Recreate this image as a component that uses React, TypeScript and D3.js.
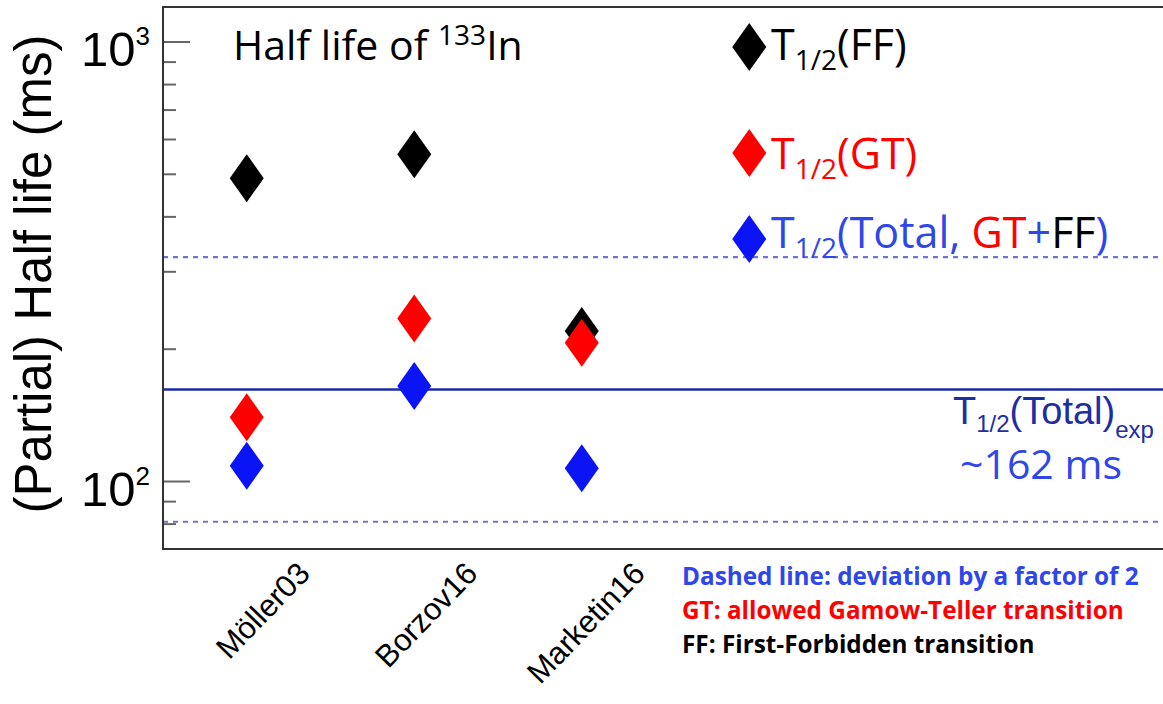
import React from "react";
import * as d3 from "d3";

// Model predictions for the half life of 133In (ms)
const categories = ["Möller03", "Borzov16", "Marketin16"];
const halfLifeFF = [490, 555, 220];
const halfLifeGT = [140, 235, 207];
const halfLifeTotal = [108.6, 165, 107.2];

const experimentalHalfLife = 162;
const deviationFactor = 2;

const majorTicks = [100, 1000];
const minorTicks = [80, 90, 200, 300, 400, 500, 600, 700, 800, 900];

const W = 1163;
const H = 704;

const frame = { left: 163, top: 7, right: 1168, bottom: 549 };

const COLORS = {
  ff: "#000000",
  gt: "#ff0000",
  total: "#0a14f5",
  expLine: "#1b2aa6",
  dashed: "#7373cc",
  textBlue: "#2f47e8",
  expText: "#1d2ea2",
};

const x = d3
  .scaleLinear()
  .domain([-0.5, 5.5])
  .range([frame.left, frame.right]);

const y = d3
  .scaleLog()
  .domain([70.22, 1201.1])
  .range([frame.bottom, frame.top]);

const series = [
  { key: "ff", values: halfLifeFF, color: COLORS.ff },
  { key: "gt", values: halfLifeGT, color: COLORS.gt },
  { key: "total", values: halfLifeTotal, color: COLORS.total },
];

const DW = 17; // half width of a diamond
const DH = 24; // half height of a diamond

function diamond(cx: number, cy: number): string {
  const p = d3.path();
  p.moveTo(cx, cy - DH);
  p.lineTo(cx + DW, cy);
  p.lineTo(cx, cy + DH);
  p.lineTo(cx - DW, cy);
  p.closePath();
  return p.toString();
}

const calibriLike = "'Open Sans', 'Noto Sans', sans-serif";
const arialLike = "'Liberation Sans', Arial, sans-serif";

export default function App() {
  const legendX = x(3);
  const legend = [
    { color: COLORS.ff, cy: 47, base: 60 },
    { color: COLORS.gt, cy: 153, base: 169 },
    { color: COLORS.total, cy: 239, base: 248 },
  ];
  const lfs = 43; // legend font size
  const lsub = 28; // legend subscript size

  return (
    <svg
      width={W}
      height={H}
      style={{ position: "absolute", left: 0, top: 0, background: "#fff" }}
    >
      <rect x={0} y={0} width={W} height={H} fill="#fff" />

      {/* reference lines: measured value and factor-of-two band */}
      <line
        x1={frame.left}
        x2={frame.right}
        y1={y(experimentalHalfLife)}
        y2={y(experimentalHalfLife)}
        stroke={COLORS.expLine}
        strokeWidth={2.5}
      />
      {[experimentalHalfLife * deviationFactor, experimentalHalfLife / deviationFactor].map((v) => (
        <line
          key={v}
          x1={frame.left}
          x2={frame.right}
          y1={y(v)}
          y2={y(v)}
          stroke={COLORS.dashed}
          strokeWidth={2.2}
          strokeDasharray="5 5"
        />
      ))}

      {/* y axis ticks */}
      {majorTicks.map((t) => (
        <line
          key={"M" + t}
          x1={frame.left}
          x2={frame.left + 27}
          y1={y(t)}
          y2={y(t)}
          stroke="#666"
          strokeWidth={2}
        />
      ))}
      {minorTicks.map((t) => (
        <line
          key={"m" + t}
          x1={frame.left}
          x2={frame.left + 13}
          y1={y(t)}
          y2={y(t)}
          stroke="#666"
          strokeWidth={2}
        />
      ))}
      {majorTicks.map((t) => (
        <text
          key={"L" + t}
          x={150}
          y={y(t) + 24}
          textAnchor="end"
          fontFamily={arialLike}
          fontSize={49}
          fill="#000"
        >
          10
          <tspan fontSize={26} dy={-21}>
            {Math.round(Math.log10(t))}
          </tspan>
        </text>
      ))}

      {/* data points */}
      {series.map((s) =>
        s.values.map((v, i) => (
          <path key={s.key + i} d={diamond(x(i), y(v))} fill={s.color} />
        ))
      )}

      {/* frame */}
      <rect
        x={frame.left}
        y={frame.top}
        width={frame.right - frame.left}
        height={frame.bottom - frame.top}
        fill="none"
        stroke="#333"
        strokeWidth={2}
      />

      {/* category labels */}
      {categories.map((c, i) => (
        <text
          key={c}
          transform={`translate(${x(i) + 65},${frame.bottom + 26}) rotate(-46)`}
          textAnchor="end"
          fontFamily={arialLike}
          fontSize={31}
          fill="#000"
        >
          {c}
        </text>
      ))}

      {/* y axis title */}
      <text
        transform={`translate(51,274) rotate(-90)`}
        textAnchor="middle"
        fontFamily={arialLike}
        fontSize={51}
        fill="#000"
      >
        (Partial) Half life (ms)
      </text>

      {/* title */}
      <text x={233} y={60} fontFamily={calibriLike} fontSize={41} fill="#000">
        Half life of{" "}
        <tspan fontSize={28} y={45}>
          133
        </tspan>
        <tspan y={60}>In</tspan>
      </text>

      {/* legend */}
      {legend.map((l, i) => (
        <path key={"lg" + i} d={diamond(legendX, l.cy)} fill={l.color} />
      ))}
      <text x={771} y={legend[0].base} fontFamily={calibriLike} fontSize={lfs} fill={COLORS.ff}>
        T
        <tspan fontSize={lsub} y={legend[0].base + 10}>1/2</tspan>
        <tspan y={legend[0].base}>(FF)</tspan>
      </text>
      <text x={771} y={legend[1].base} fontFamily={calibriLike} fontSize={lfs} fill={COLORS.gt}>
        T
        <tspan fontSize={lsub} y={legend[1].base + 10}>1/2</tspan>
        <tspan y={legend[1].base}>(GT)</tspan>
      </text>
      <text x={771} y={legend[2].base} fontFamily={calibriLike} fontSize={lfs} fill={COLORS.textBlue}>
        T
        <tspan fontSize={lsub} y={legend[2].base + 10}>1/2</tspan>
        <tspan y={legend[2].base}>(Total, </tspan>
        <tspan fill={COLORS.gt}>GT</tspan>
        <tspan>+</tspan>
        <tspan fill={COLORS.ff}>FF</tspan>
        <tspan>)</tspan>
      </text>

      {/* measured value label */}
      <text x={953} y={424} fontFamily={arialLike} fontSize={38} fill={COLORS.expText}>
        T
        <tspan fontSize={24} y={432}>1/2</tspan>
        <tspan y={424}>(Total)</tspan>
        <tspan fontSize={24} y={438}>exp</tspan>
      </text>
      <text x={960} y={479} fontFamily={calibriLike} fontSize={41} fill={COLORS.textBlue}>
        ~{experimentalHalfLife} ms
      </text>

      {/* notes */}
      <g fontFamily={calibriLike} fontWeight="bold" fontSize={24.3}>
        <text x={682} y={585} fill={COLORS.textBlue}>
          Dashed line: deviation by a factor of {deviationFactor}
        </text>
        <text x={682} y={619} fill={COLORS.gt}>
          GT: allowed Gamow-Teller transition
        </text>
        <text x={682} y={653} fill="#000">
          FF: First-Forbidden transition
        </text>
      </g>
    </svg>
  );
}
